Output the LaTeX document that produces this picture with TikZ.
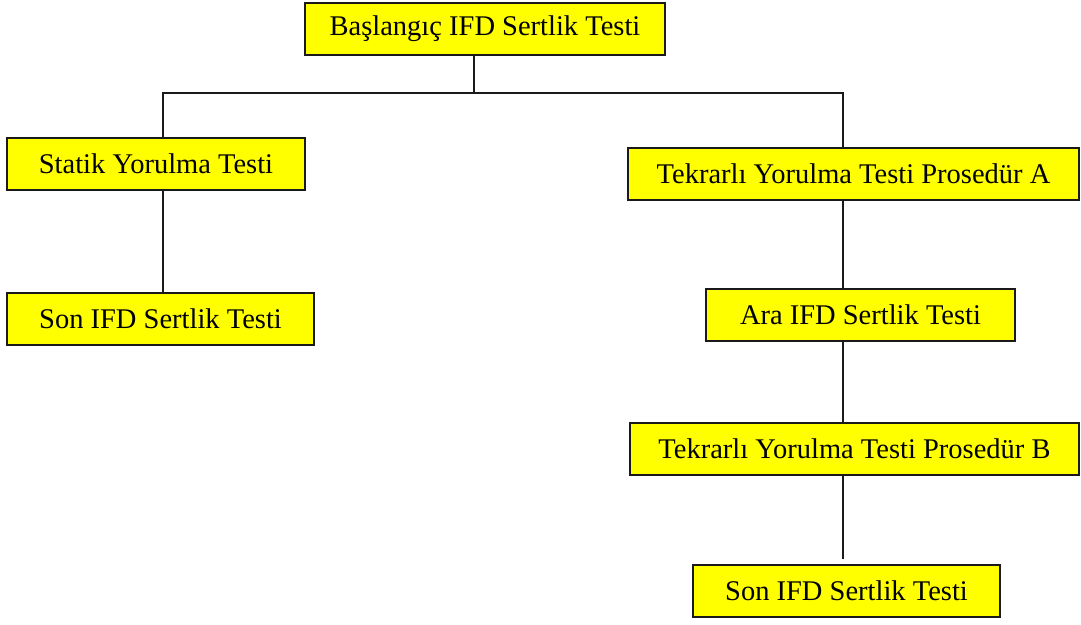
\documentclass[tikz,border=0pt]{standalone}
\usepackage{fontspec}
\setmainfont{Liberation Serif}
\usepackage{tikz}
\usetikzlibrary{calc}
\definecolor{boxfill}{HTML}{FFFF00}
\definecolor{edge}{HTML}{1a1a1a}

\begin{document}
\begin{tikzpicture}[x=1pt, y=-1pt,
    testbox/.style={draw=edge, line width=2pt, fill=boxfill, minimum height=52pt,
      inner sep=0pt, font=\fontsize{28.5}{34}\selectfont},
    link/.style={draw=edge, line width=2pt}]
    \useasboundingbox (0,0) rectangle (1081,624);
    % kutular
    \node[testbox, minimum width=360pt] (basla) at (485, 29) {Başlangıç IFD Sertlik Testi};
    \node[testbox, minimum width=298pt] (statik) at (156, 164) {Statik Yorulma Testi};
    \node[testbox, minimum width=307pt] (sonsol) at (160.5, 319) {Son IFD Sertlik Testi};
    \node[testbox, minimum width=451pt] (tekA) at (853.5, 174) {Tekrarlı Yorulma Testi Prosedür A};
    \node[testbox, minimum width=309pt] (ara) at (860.5, 315) {Ara IFD Sertlik Testi};
    \node[testbox, minimum width=449pt] (tekB) at (854.5, 449) {Tekrarlı Yorulma Testi Prosedür B};
    \node[testbox, minimum width=307pt] (sonsag) at (846.5, 591) {Son IFD Sertlik Testi};
    % baglantilar
    \coordinate (govde) at (474, 93);
    \coordinate (solkol) at (162.5, 93);
    \coordinate (sagkol) at (842.5, 93);
    \coordinate (uc) at (842.5, 559);
    \draw[link] (basla.south -| govde) -- (govde);
    \draw[link] (statik.north -| solkol) -- (solkol) -- (sagkol) -- (tekA.north -| sagkol);
    \draw[link] (statik.south -| solkol) -- (sonsol.north -| solkol);
    \draw[link] (tekA.south -| sagkol) -- (ara.north -| sagkol);
    \draw[link] (ara.south -| sagkol) -- (tekB.north -| sagkol);
    \draw[link] (tekB.south -| uc) -- (uc);
  \end{tikzpicture}
\end{document}
